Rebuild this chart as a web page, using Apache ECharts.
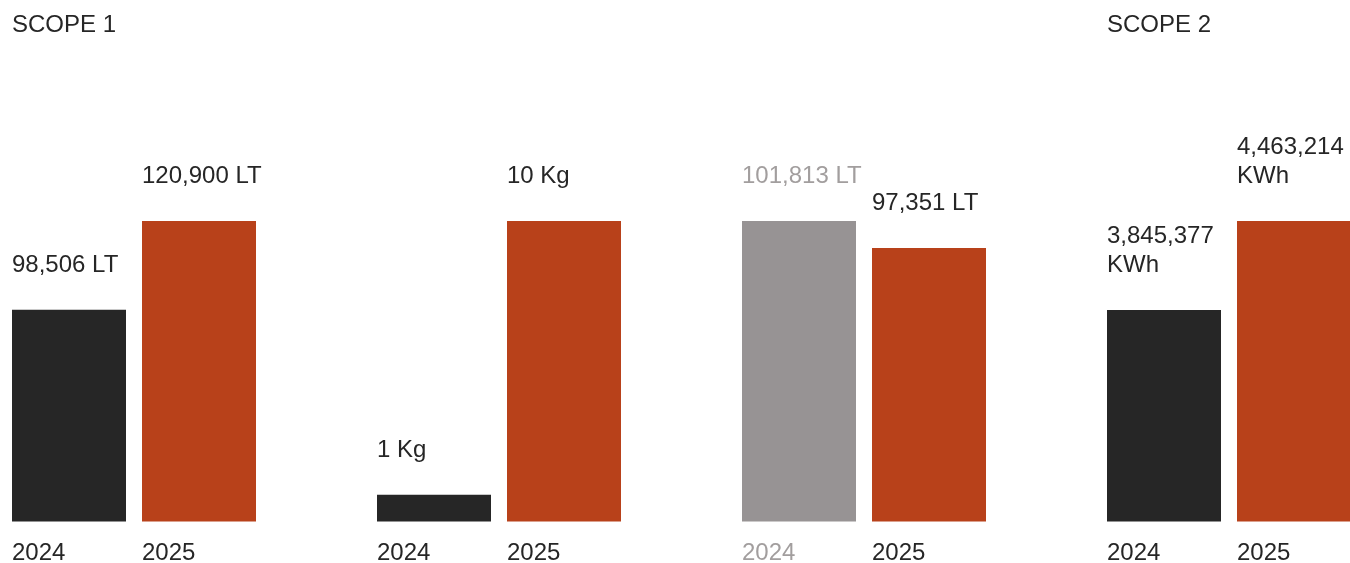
<!DOCTYPE html>
<html>
<head>
<meta charset="utf-8">
<script src="https://cdn.jsdelivr.net/npm/echarts@6/dist/echarts.min.js"></script>
<style>
html,body{margin:0;padding:0;background:#fff;}
#c{width:1350px;height:563px;}
</style>
</head>
<body>
<div id="c"></div>
<script>
// ---- data ----
const years = ['2024', '2025'];
const groupTitles = ['SCOPE 1', '', '', 'SCOPE 2'];
const values2024 = [98506, 1, 101813, 3845377];
const values2025 = [120900, 10, 97351, 4463214];
const units = ['LT', 'Kg', 'LT', 'KWh'];

// ---- styling ----
const FONT = 'Liberation Sans';
const DARK = '#262626';
const ORANGE = '#b8411a';
const GRAY = '#979394';
const GRAY_TEXT = '#a29e9e';
const color2024 = [DARK, DARK, GRAY, DARK];
const text2024 = [DARK, DARK, GRAY_TEXT, DARK];
const axisMin = [45000, 0.12, 52000, 2380000];
const gridLeft = [4, 369, 734, 1099];
const GRID_W = 260;

const chart = echarts.init(document.getElementById('c'), null, {renderer: 'canvas'});

const grids = [], xAxes = [], yAxes = [], series = [], titles = [];
function fmt(v, u) { return v.toLocaleString('en-US') + ' ' + u; }

for (let g = 0; g < 4; g++) {
  grids.push({left: gridLeft[g], width: GRID_W, top: 221, bottom: 41.5,
              containLabel: false, outerBoundsMode: 'none'});
  xAxes.push({
    type: 'category', gridIndex: g, data: years,
    axisLine: {show: false}, axisTick: {show: false}, splitLine: {show: false},
    axisLabel: {
      margin: 17,
      formatter: v => '{a|' + v + '}',
      rich: {a: {width: 114, align: 'left', fontFamily: FONT, fontSize: 24, lineHeight: 29,
                 color: 'inherit'}},
      color: (v, i) => i === 0 ? text2024[g] : DARK,
      fontFamily: FONT, fontSize: 24
    }
  });
  const mx = Math.max(values2024[g], values2025[g]);
  yAxes.push({type: 'value', gridIndex: g, min: axisMin[g], max: mx, show: false});
  const lbl = (c) => ({
    show: true, position: [0, -30], align: 'left', verticalAlign: 'bottom',
    fontFamily: FONT, fontSize: 24, lineHeight: 29, color: c,
    width: 128, overflow: 'break',
    formatter: p => fmt(p.value, units[g])
  });
  series.push({
    type: 'bar', xAxisIndex: g, yAxisIndex: g, barWidth: 114, silent: true, animation: false,
    data: [
      {value: values2024[g], itemStyle: {color: color2024[g]}, label: lbl(text2024[g])},
      {value: values2025[g], itemStyle: {color: ORANGE}, label: lbl(DARK)}
    ]
  });
  if (groupTitles[g]) {
    titles.push({text: groupTitles[g], left: gridLeft[g] + 8, top: 13, padding: 0,
      textStyle: {fontFamily: FONT, fontSize: 24, fontWeight: 'normal', color: DARK}});
  }
}

chart.setOption({
  animation: false,
  backgroundColor: '#fff',
  title: titles,
  grid: grids, xAxis: xAxes, yAxis: yAxes, series: series
});
</script>
</body>
</html>
